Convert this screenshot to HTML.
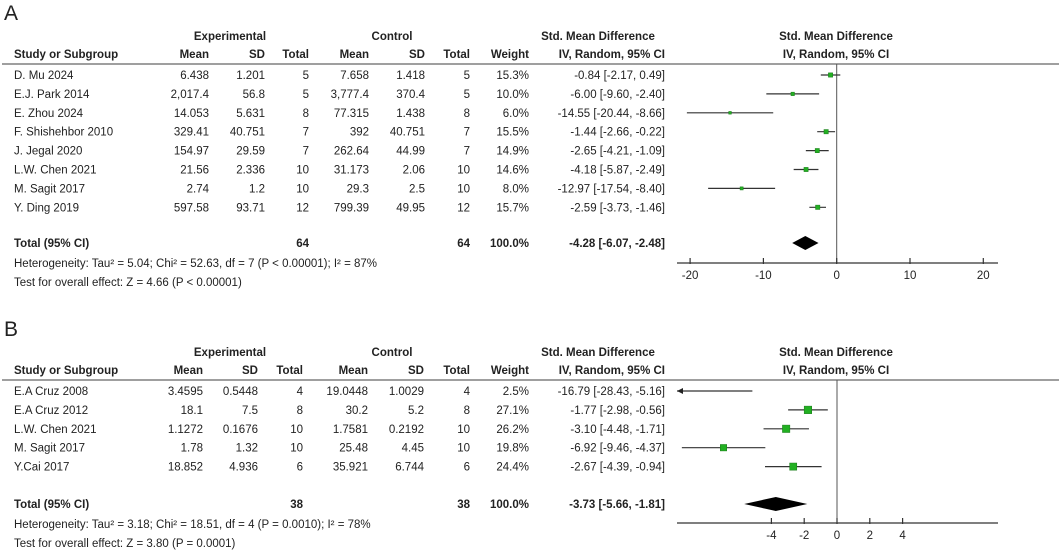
<!DOCTYPE html>
<html><head><meta charset="utf-8"><style>
body{margin:0;background:#fff;}
svg{display:block;font-family:"Liberation Sans",Arial,sans-serif;font-size:11.5px;fill:#222;}
.b{font-weight:bold;}
</style></head><body>
<svg id="s" width="1059" height="556" viewBox="0 0 1059 556"></svg>
<script>
// Panel A data
const studiesA = ["D. Mu 2024","E.J. Park 2014","E. Zhou 2024","F. Shishehbor 2010","J. Jegal 2020","L.W. Chen 2021","M. Sagit 2017","Y. Ding 2019"];
const expMeanA = ["6.438","2,017.4","14.053","329.41","154.97","21.56","2.74","597.58"];
const expSdA = ["1.201","56.8","5.631","40.751","29.59","2.336","1.2","93.71"];
const expNA = [5,5,8,7,7,10,10,12];
const ctlMeanA = ["7.658","3,777.4","77.315","392","262.64","31.173","29.3","799.39"];
const ctlSdA = ["1.418","370.4","1.438","40.751","44.99","2.06","2.5","49.95"];
const ctlNA = [5,5,8,7,7,10,10,12];
const weightA = [15.3,10.0,6.0,15.5,14.9,14.6,8.0,15.7];
const smdA = [-0.84,-6.00,-14.55,-1.44,-2.65,-4.18,-12.97,-2.59];
const loA = [-2.17,-9.60,-20.44,-2.66,-4.21,-5.87,-17.54,-3.73];
const hiA = [0.49,-2.40,-8.66,-0.22,-1.09,-2.49,-8.40,-1.46];
const totalA = [-4.28,-6.07,-2.48];
const ticksA = [-20,-10,0,10,20];
// Panel B data
const studiesB = ["E.A Cruz 2008","E.A Cruz 2012","L.W. Chen 2021","M. Sagit 2017","Y.Cai 2017"];
const expMeanB = ["3.4595","18.1","1.1272","1.78","18.852"];
const expSdB = ["0.5448","7.5","0.1676","1.32","4.936"];
const expNB = [4,8,10,10,6];
const ctlMeanB = ["19.0448","30.2","1.7581","25.48","35.921"];
const ctlSdB = ["1.0029","5.2","0.2192","4.45","6.744"];
const ctlNB = [4,8,10,10,6];
const weightB = [2.5,27.1,26.2,19.8,24.4];
const smdB = [-16.79,-1.77,-3.10,-6.92,-2.67];
const loB = [-28.43,-2.98,-4.48,-9.46,-4.39];
const hiB = [-5.16,-0.56,-1.71,-4.37,-0.94];
const totalB = [-3.73,-5.66,-1.81];
const ticksB = [-4,-2,0,2,4];

const svg = document.getElementById('s');
const NS = 'http://www.w3.org/2000/svg';
function mk(tag, attrs, txt){const e=document.createElementNS(NS,tag);for(const k in attrs)e.setAttribute(k,attrs[k]);if(txt!==undefined)e.textContent=txt;svg.appendChild(e);return e;}
function t(x,y,s,anchor,cls,name){const e=mk('text',{x:x,y:y,'text-anchor':anchor||'start',class:cls||''},s);


return e;}
function fmt(v){return v.toFixed(2);}

function panel(o){
  const P=o.top;
  t(4,P+20,o.letter,'start','', 'panel-letter').setAttribute('style','font-size:21px');
  t(230,P+40,'Experimental','middle','b','experimental-header');
  t(392,P+40,'Control','middle','b','control-header');
  t(598,P+40,'Std. Mean Difference','middle','b','smd-header');
  t(836,P+40,'Std. Mean Difference','middle','b','smd-plot-header');
  const hy=P+58;
  t(14,hy,'Study or Subgroup','start','b','study-col-header');
  const cols=o.cols;
  t(cols[0],hy,'Mean','end','b','exp-mean-header');
  t(cols[1],hy,'SD','end','b','exp-sd-header');
  t(cols[2],hy,'Total','end','b','exp-total-header');
  t(cols[3],hy,'Mean','end','b','ctl-mean-header');
  t(cols[4],hy,'SD','end','b','ctl-sd-header');
  t(cols[5],hy,'Total','end','b','ctl-total-header');
  t(529,hy,'Weight','end','b','weight-header');
  t(665,hy,'IV, Random, 95% CI','end','b','ci-header');
  t(836,hy,'IV, Random, 95% CI','middle','b','ci-plot-header');
  const hl=mk('line',{x1:2,x2:1059,y1:P+64,y2:P+64,stroke:'#666','stroke-width':1.3});
  
  
  const x=v=>o.zeroX+v*o.ppu;
  const axY=o.axisY;
  const zl=mk('line',{x1:x(0),x2:x(0),y1:P+64,y2:axY,stroke:'#555','stroke-width':1});
  
  
  const ax=mk('line',{x1:677,x2:998,y1:axY,y2:axY,stroke:'#333','stroke-width':1.3});
  
  
  o.ticks.forEach(v=>{
    const tk=mk('line',{x1:x(v),x2:x(v),y1:axY-5,y2:axY+1,stroke:'#333','stroke-width':1.2});
    
    
    t(x(v),axY+16,String(v),'middle','','x-tick-label');
  });
  const minV=(677-o.zeroX)/o.ppu;
  o.studies.forEach((s,i)=>{
    const ty=P+79+i*o.step, my=ty-4;
    t(14,ty,s,'start','','study-name');
    t(cols[0],ty,o.em[i],'end','','exp-mean');
    t(cols[1],ty,o.es[i],'end','','exp-sd');
    t(cols[2],ty,String(o.en[i]),'end','','exp-total');
    t(cols[3],ty,o.cm[i],'end','','ctl-mean');
    t(cols[4],ty,o.cs[i],'end','','ctl-sd');
    t(cols[5],ty,String(o.cn[i]),'end','','ctl-total');
    t(529,ty,o.w[i].toFixed(1)+'%','end','','weight');
    t(665,ty,fmt(o.smd[i])+' ['+fmt(o.lo[i])+', '+fmt(o.hi[i])+']','end','','smd-ci');
    const lo=Math.max(o.lo[i],minV);
    const ci=mk('line',{x1:x(lo),x2:x(o.hi[i]),y1:my,y2:my,stroke:'#333','stroke-width':1.2});
    
    
    if(o.lo[i]<minV){
      const ar=mk('polygon',{points:`${x(lo)},${my} ${x(lo)+6},${my-3} ${x(lo)+6},${my+3}`,fill:'#222'});
      
      
    }
    if(o.smd[i]>=minV){
      const sz=o.sizeK*Math.sqrt(o.w[i]);
      const sq=mk('rect',{x:x(o.smd[i])-sz/2,y:my-sz/2,width:sz,height:sz,fill:'#22b022',stroke:'#1a7a1a','stroke-width':0.5});
      
      
    }
  });
  const tY=o.totalY;
  t(14,tY,'Total (95% CI)','start','b','total-label');
  t(cols[2],tY,String(o.en.reduce((a,b)=>a+b,0)),'end','b','exp-total-sum');
  t(cols[5],tY,String(o.cn.reduce((a,b)=>a+b,0)),'end','b','ctl-total-sum');
  t(529,tY,'100.0%','end','b','total-weight');
  t(665,tY,fmt(o.tot[0])+' ['+fmt(o.tot[1])+', '+fmt(o.tot[2])+']','end','b','total-smd');
  const dy=tY-4;
  const dm=mk('polygon',{points:`${x(o.tot[1])},${dy} ${x(o.tot[0])},${dy-7} ${x(o.tot[2])},${dy} ${x(o.tot[0])},${dy+7}`,fill:'#000'});
  
  
  t(14,tY+20,o.het,'start','','heterogeneity');
  t(14,tY+39,o.test,'start','','overall-effect');
}
panel({letter:'A',top:0,cols:[209,265,309,369,425,470],zeroX:836.7,ppu:7.33,axisY:263,ticks:ticksA,step:18.9,
 studies:studiesA,em:expMeanA,es:expSdA,en:expNA,cm:ctlMeanA,cs:ctlSdA,cn:ctlNA,w:weightA,smd:smdA,lo:loA,hi:hiA,tot:totalA,
 totalY:247,sizeK:1.1,
 het:'Heterogeneity: Tau² = 5.04; Chi² = 52.63, df = 7 (P < 0.00001); I² = 87%',
 test:'Test for overall effect: Z = 4.66 (P < 0.00001)'});
panel({letter:'B',top:316,cols:[203,258,303,368,424,470],zeroX:837,ppu:16.4,axisY:523,ticks:ticksB,step:18.9,
 studies:studiesB,em:expMeanB,es:expSdB,en:expNB,cm:ctlMeanB,cs:ctlSdB,cn:ctlNB,w:weightB,smd:smdB,lo:loB,hi:hiB,tot:totalB,
 totalY:508,sizeK:1.45,
 het:'Heterogeneity: Tau² = 3.18; Chi² = 18.51, df = 4 (P = 0.0010); I² = 78%',
 test:'Test for overall effect: Z = 3.80 (P = 0.0001)'});
</script>
</body></html>
